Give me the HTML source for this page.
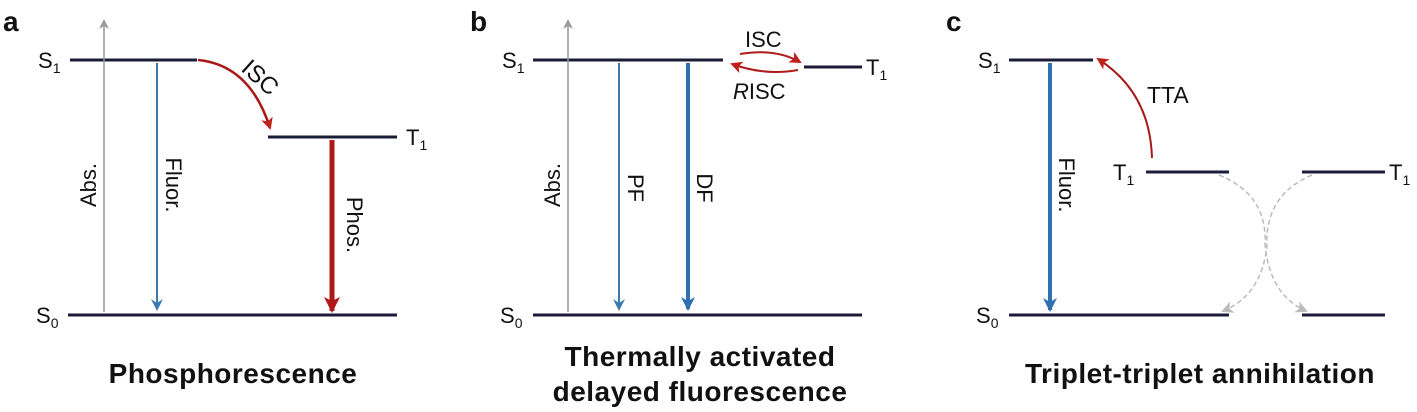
<!DOCTYPE html>
<html><head><meta charset="utf-8"><style>
html,body{margin:0;padding:0;background:#fff;}
svg{display:block;font-family:"Liberation Sans",Arial,sans-serif;}
</style></head><body>
<svg width="1417" height="412" viewBox="0 0 1417 412" xmlns="http://www.w3.org/2000/svg">
<defs>
<marker id="ag" markerWidth="10" markerHeight="10" refX="8" refY="5" orient="auto" markerUnits="userSpaceOnUse"><path d="M0,0 L10,5 L0,10 L3,5 Z" fill="#999"/></marker>
<marker id="ab" markerWidth="12" markerHeight="12" refX="10" refY="6" orient="auto" markerUnits="userSpaceOnUse"><path d="M0,0 L12,6 L0,12 L4,6 Z" fill="#3a78b0"/></marker>
<marker id="ab2" markerWidth="14" markerHeight="14" refX="12" refY="7" orient="auto" markerUnits="userSpaceOnUse"><path d="M0,0 L14,7 L0,14 L4,7 Z" fill="#2f6fb2"/></marker>
<marker id="ar" markerWidth="16" markerHeight="16" refX="14" refY="8" orient="auto" markerUnits="userSpaceOnUse"><path d="M0,0 L16,8 L0,16 L4,8 Z" fill="#b01818"/></marker>
<marker id="ar2" markerWidth="12" markerHeight="12" refX="10" refY="6" orient="auto" markerUnits="userSpaceOnUse"><path d="M0,0 L12,6 L0,12 L3,6 Z" fill="#c0201c"/></marker>
<marker id="agl" markerWidth="12" markerHeight="12" refX="10" refY="6" orient="auto" markerUnits="userSpaceOnUse"><path d="M0,0 L12,6 L0,12 L3,6 Z" fill="#bbb"/></marker>
</defs>
<g font-size="22" fill="#111">
<!-- Panel a -->
<text x="3" y="31" font-size="28" font-weight="bold">a</text>
<text x="38" y="68">S<tspan font-size="14" dy="5">1</tspan></text>
<text x="36" y="323">S<tspan font-size="14" dy="5">0</tspan></text>
<text x="406" y="145">T<tspan font-size="14" dy="5">1</tspan></text>
<line x1="70" y1="60" x2="197" y2="60" stroke="#1b1b3a" stroke-width="3"/>
<line x1="268" y1="137" x2="397" y2="137" stroke="#1b1b3a" stroke-width="3"/>
<line x1="68" y1="315" x2="397" y2="315" stroke="#1b1b3a" stroke-width="3"/>
<line x1="104" y1="312" x2="104" y2="21" stroke="#999" stroke-width="1.5" marker-end="url(#ag)"/>
<line x1="157" y1="63" x2="157" y2="309" stroke="#3a78b0" stroke-width="2" marker-end="url(#ab)"/>
<path d="M198,60 Q250,65 270,128" fill="none" stroke="#a81a1a" stroke-width="2.5" marker-end="url(#ar2)"/>
<line x1="332" y1="140" x2="332" y2="311" stroke="#b01818" stroke-width="5" marker-end="url(#ar)"/>
<text transform="translate(240,70) rotate(42)" font-size="24">ISC</text>
<text transform="translate(96,185) rotate(-90)" text-anchor="middle">Abs.</text>
<text transform="translate(166,185) rotate(90)" text-anchor="middle">Fluor.</text>
<text transform="translate(347,225) rotate(90)" text-anchor="middle">Phos.</text>
<text x="233" y="383" font-size="28" font-weight="bold" text-anchor="middle" letter-spacing="0.5">Phosphorescence</text>

<!-- Panel b -->
<text x="470" y="31" font-size="28" font-weight="bold">b</text>
<text x="502" y="68">S<tspan font-size="14" dy="5">1</tspan></text>
<text x="500" y="323">S<tspan font-size="14" dy="5">0</tspan></text>
<text x="866" y="75">T<tspan font-size="14" dy="5">1</tspan></text>
<line x1="533" y1="60" x2="723" y2="60" stroke="#1b1b3a" stroke-width="3"/>
<line x1="804" y1="67" x2="862" y2="67" stroke="#1b1b3a" stroke-width="3"/>
<line x1="533" y1="315" x2="862" y2="315" stroke="#1b1b3a" stroke-width="3"/>
<line x1="568" y1="312" x2="568" y2="21" stroke="#999" stroke-width="1.5" marker-end="url(#ag)"/>
<line x1="619" y1="63" x2="619" y2="309" stroke="#3a78b0" stroke-width="2" marker-end="url(#ab)"/>
<line x1="688" y1="63" x2="688" y2="309" stroke="#2f6fb2" stroke-width="4" marker-end="url(#ab2)"/>
<path d="M740,54 Q775,48 800,62" fill="none" stroke="#b01c1c" stroke-width="2" marker-end="url(#ar2)"/>
<path d="M798,70 Q765,76 732,64" fill="none" stroke="#b01c1c" stroke-width="2" marker-end="url(#ar2)"/>
<text x="745" y="47" font-size="22">ISC</text>
<text x="733" y="99" font-size="22"><tspan font-style="italic">R</tspan>ISC</text>
<text transform="translate(560,185) rotate(-90)" text-anchor="middle">Abs.</text>
<text transform="translate(628,188) rotate(90)" text-anchor="middle">PF</text>
<text transform="translate(697,188) rotate(90)" text-anchor="middle">DF</text>
<text x="700" y="366" font-size="28" font-weight="bold" text-anchor="middle" letter-spacing="0.5">Thermally activated</text>
<text x="700" y="401" font-size="28" font-weight="bold" text-anchor="middle" letter-spacing="0.5">delayed fluorescence</text>

<!-- Panel c -->
<text x="946" y="31" font-size="28" font-weight="bold">c</text>
<text x="978" y="68">S<tspan font-size="14" dy="5">1</tspan></text>
<text x="976" y="323">S<tspan font-size="14" dy="5">0</tspan></text>
<text x="1113" y="180">T<tspan font-size="14" dy="5">1</tspan></text>
<text x="1389" y="180">T<tspan font-size="14" dy="5">1</tspan></text>
<line x1="1009" y1="60" x2="1093" y2="60" stroke="#1b1b3a" stroke-width="3"/>
<line x1="1146" y1="172" x2="1229" y2="172" stroke="#1b1b3a" stroke-width="3"/>
<line x1="1302" y1="172" x2="1385" y2="172" stroke="#1b1b3a" stroke-width="3"/>
<line x1="1009" y1="315" x2="1229" y2="315" stroke="#1b1b3a" stroke-width="3"/>
<line x1="1302" y1="315" x2="1385" y2="315" stroke="#1b1b3a" stroke-width="3"/>
<line x1="1050" y1="63" x2="1050" y2="310" stroke="#2f6fb2" stroke-width="4" marker-end="url(#ab2)"/>
<path d="M1152,158 Q1150,92 1098,59" fill="none" stroke="#a81a1a" stroke-width="2" marker-end="url(#ar2)"/>
<text x="1147" y="103" font-size="23">TTA</text>
<path d="M1219,175 Q1268,195 1265,245 Q1270,295 1306,311" fill="none" stroke="#bbb" stroke-width="1.5" stroke-dasharray="5,3" marker-end="url(#agl)"/>
<path d="M1312,175 Q1265,195 1267,245 Q1262,295 1223,311" fill="none" stroke="#bbb" stroke-width="1.5" stroke-dasharray="5,3" marker-end="url(#agl)"/>
<text transform="translate(1059,185) rotate(90)" text-anchor="middle">Fluor.</text>
<text x="1200" y="383" font-size="28" font-weight="bold" text-anchor="middle" letter-spacing="0.5">Triplet-triplet annihilation</text>
</g>
</svg>
</body></html>
